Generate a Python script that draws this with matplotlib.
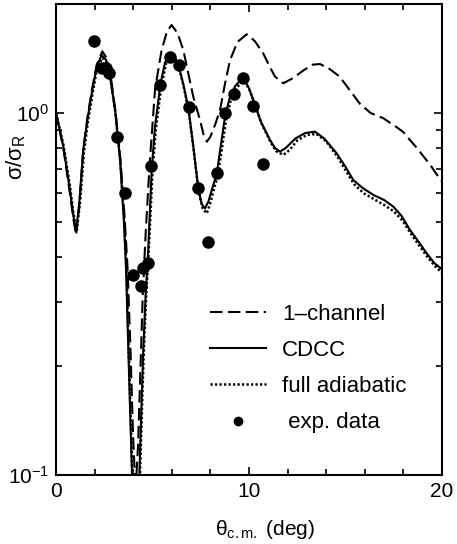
import numpy as np
import matplotlib
matplotlib.use("Agg")
import matplotlib.pyplot as plt
from matplotlib.ticker import MultipleLocator, LogLocator, NullFormatter, FixedLocator

plt.rcParams["font.family"] = ["Liberation Sans", "DejaVu Sans"]
plt.rcParams["mathtext.fontset"] = "custom"
plt.rcParams["mathtext.rm"] = "Liberation Sans"
plt.rcParams["mathtext.it"] = "Liberation Sans:italic"
plt.rcParams["mathtext.default"] = "regular"

# ---- data ----
cdcc_x = [0.0, 0.38, 0.72, 0.9, 1.04, 1.2, 1.41, 1.63, 1.85, 2.11, 2.37, 2.6, 2.8, 3.06,
          3.32, 3.52, 3.63, 3.73, 3.84, 3.94, 4.13, 4.32, 4.42, 4.52, 4.65, 4.77, 4.96,
          5.13, 5.41, 5.65, 5.94, 6.15, 6.34, 6.6, 6.86, 7.1, 7.37, 7.55, 7.72, 7.9, 8.1,
          8.33, 8.55, 8.76, 9.0, 9.3, 9.55, 9.75, 10.0, 10.22, 10.6, 11.09, 11.35, 11.6,
          11.9, 12.4, 12.9, 13.42, 13.9, 14.54, 15.0, 15.4, 15.9, 16.44, 17.0, 17.48,
          17.9, 18.34, 18.8, 19.2, 19.6, 20.0]
cdcc_y = [1.0, 0.807, 0.613, 0.52, 0.472, 0.56, 0.79, 0.96, 1.133, 1.343, 1.446, 1.40, 1.26,
          1.02, 0.742, 0.50, 0.37, 0.24, 0.15, 0.10, 0.05, 0.10, 0.15, 0.22, 0.32, 0.41,
          0.70, 0.917, 1.2, 1.38, 1.46, 1.43, 1.357, 1.2, 1.03, 0.82, 0.62, 0.56, 0.545,
          0.57, 0.62, 0.68, 0.82, 0.98, 1.10, 1.19, 1.23, 1.24, 1.17, 1.086, 0.95, 0.842,
          0.80, 0.782, 0.80, 0.85, 0.88, 0.888, 0.85, 0.774, 0.71, 0.653, 0.62, 0.594,
          0.575, 0.551, 0.52, 0.475, 0.44, 0.41, 0.385, 0.37]

adia_x = [0.0, 0.38, 0.72, 0.9, 1.07, 1.25, 1.45, 1.67, 1.88, 2.13, 2.4, 2.62, 2.83, 3.08,
          3.34, 3.54, 3.65, 3.75, 3.86, 3.96, 4.15, 4.35, 4.45, 4.55, 4.68, 4.8, 5.0, 5.17,
          5.45, 5.7, 5.97, 6.18, 6.37, 6.62, 6.88, 7.12, 7.4, 7.6, 7.81, 7.98, 8.16, 8.38,
          8.6, 8.8, 9.05, 9.35, 9.6, 9.8, 10.05, 10.27, 10.65, 11.12, 11.4, 11.78, 12.1,
          12.5, 13.0, 13.5, 14.0, 14.6, 15.0, 15.45, 15.95, 16.5, 17.0, 17.5, 17.95, 18.4,
          18.85, 19.25, 19.65, 20.0]
adia_y = [1.0, 0.82, 0.63, 0.53, 0.47, 0.57, 0.78, 0.96, 1.12, 1.33, 1.42, 1.38, 1.24, 1.0,
          0.73, 0.50, 0.37, 0.24, 0.15, 0.10, 0.05, 0.10, 0.15, 0.22, 0.32, 0.41, 0.69, 0.90,
          1.18, 1.37, 1.44, 1.41, 1.34, 1.18, 1.01, 0.80, 0.60, 0.545, 0.528, 0.56, 0.61,
          0.67, 0.80, 0.95, 1.08, 1.17, 1.215, 1.22, 1.15, 1.07, 0.935, 0.83, 0.785, 0.766,
          0.79, 0.84, 0.87, 0.875, 0.835, 0.755, 0.695, 0.635, 0.60, 0.577, 0.557, 0.535,
          0.505, 0.463, 0.428, 0.40, 0.377, 0.362]

one_x = [0.0, 0.38, 0.72, 0.9, 1.04, 1.2, 1.41, 1.65, 1.85, 2.11, 2.4, 2.62, 2.82, 3.08,
         3.34, 3.55, 3.7, 3.85, 3.99, 4.12, 4.25, 4.38, 4.5, 4.65, 4.85, 5.13, 5.47, 5.75,
         5.99, 6.3, 6.6, 6.85, 7.11, 7.46, 7.65, 7.82, 8.0, 8.25, 8.5, 8.75, 9.02, 9.4,
         9.88, 10.3, 10.74, 11.05, 11.35, 11.78, 12.3, 12.81, 13.3, 13.68, 14.2, 14.7,
         15.2, 15.75, 16.3, 16.96, 17.3, 17.7, 18.0, 18.34, 18.7, 19.03, 19.38, 19.7, 20.0]
one_y = [1.0, 0.80, 0.60, 0.51, 0.46, 0.55, 0.79, 0.99, 1.15, 1.36, 1.48, 1.42, 1.28, 1.01,
         0.74, 0.52, 0.38, 0.23, 0.13, 0.09, 0.12, 0.20, 0.32, 0.47, 0.72, 1.16, 1.49, 1.68,
         1.75, 1.66, 1.49, 1.29, 1.11, 0.957, 0.87, 0.833, 0.86, 0.93, 1.02, 1.2, 1.40,
         1.57, 1.65, 1.58, 1.46, 1.35, 1.26, 1.208, 1.25, 1.31, 1.36, 1.365, 1.32, 1.26,
         1.16, 1.06, 1.0, 0.967, 0.94, 0.91, 0.885, 0.842, 0.80, 0.76, 0.72, 0.68, 0.646]

exp_x = [1.98, 2.37, 2.59, 2.76, 3.14, 3.58, 3.97, 4.39, 4.52, 4.78, 4.92, 5.41, 5.91,
         6.37, 6.89, 7.37, 7.89, 8.33, 8.76, 9.22, 9.71, 10.22, 10.74]
exp_y = [1.58, 1.33, 1.33, 1.29, 0.857, 0.60, 0.357, 0.333, 0.372, 0.384, 0.715, 1.195,
         1.43, 1.357, 1.037, 0.619, 0.44, 0.684, 1.0, 1.126, 1.25, 1.045, 0.723]

fig = plt.figure(figsize=(4.57, 5.44), dpi=100)
ax = fig.add_axes([56 / 457, 1 - 475 / 544, (442 - 56) / 457, (475 - 4) / 544])

ax.plot(one_x, one_y, color="black", lw=1.5, dashes=(6, 2.6), label="1\u2013channel")
ax.plot(cdcc_x, cdcc_y, color="black", lw=1.5, label="CDCC")
ax.plot(adia_x, adia_y, color="black", lw=1.8, dashes=(0.9, 0.9), label="full adiabatic")
ax.plot(exp_x, exp_y, "o", color="black", ms=8, ls="none", label=" exp. data")

ax.set_yscale("log")
ax.set_xlim(0, 20)
ax.set_ylim(0.1, 2.0)

ax.xaxis.set_major_locator(FixedLocator([0, 10, 20]))
ax.xaxis.set_minor_locator(MultipleLocator(2))
ax.yaxis.set_major_locator(LogLocator(base=10, numticks=5))
ax.yaxis.set_minor_locator(LogLocator(base=10, subs=np.arange(2, 10), numticks=10))
ax.yaxis.set_minor_formatter(NullFormatter())

ax.tick_params(which="both", direction="in", top=True, right=True, labelsize=15, width=1.2)
ax.tick_params(which="major", length=6, pad=5)
ax.tick_params(which="minor", length=4)
for s in ax.spines.values():
    s.set_linewidth(1.5)

ax.set_xlabel("θ$_{\\rm c.m.}$ (deg)", fontsize=15)
ax.xaxis.set_label_coords((265 - 56) / 386, -0.092)
ax.set_ylabel("σ/σ$_{\\rm R}$", fontsize=16)
ax.yaxis.set_label_coords(-0.072, (475 - 157) / 471)

leg = ax.legend(loc="upper left", bbox_to_anchor=(210 / 457, 1 - 304 / 544),
                bbox_transform=fig.transFigure, frameon=False, fontsize=16,
                handlelength=2.5, handletextpad=0.75, labelspacing=0.68,
                borderpad=0, borderaxespad=0, markerscale=0.75)

fig.savefig("out.png", dpi=100)
